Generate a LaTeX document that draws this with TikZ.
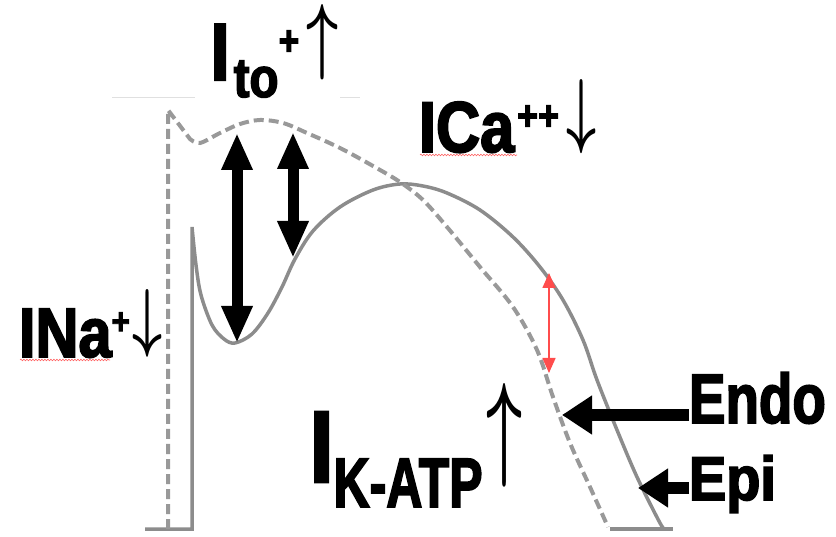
\documentclass[tikz,border=0pt]{standalone}
\usepackage{fontspec}
\usepackage{graphicx}
\setmainfont{Liberation Sans}[FakeStretch=0.85,BoldFeatures={FakeBold=2.5}]
\usetikzlibrary{arrows.meta,decorations.pathmorphing}
\begin{document}
\begin{tikzpicture}[x=1pt,y=-1pt,
  apcurve/.style={line width=3.5pt,black!45},
  apdash/.style={line width=4pt,black!40,dash pattern=on 10pt off 5pt},
  lbl/.style={inner sep=0pt,outer sep=0pt,anchor=base west,font=\bfseries},
  glyph/.style={inner sep=0pt,outer sep=0pt},
  fatboth/.style={line width=11pt,{Triangle[length=37pt,width=29pt]}-{Triangle[length=37pt,width=29pt]}},
  fatleft/.style={line width=12pt,-{Triangle[length=30pt,width=37pt]}},
  gaparrow/.style={line width=1.5pt,red!70,{Triangle[length=15pt,width=13pt]}-{Triangle[length=15pt,width=13pt]}},
  spell/.style={red!60,line width=0.6pt,decorate,decoration={snake,amplitude=0.8pt,segment length=3pt}}]
\useasboundingbox (0,0) rectangle (836,537);
\draw[black!12,line width=1pt] (112,98) -- (195,98) (340,98) -- (360,98);
\draw[apcurve] (145,529) -- (192,529) -- plot[smooth,tension=0.55] coordinates {(192,227) (196,265) (201,295) (212,325) (224,339) (235,343) (252,334) (268,313) (282,287) (295,259) (313,231) (340,207) (373,190) (400,184) (423,186) (447,193) (480,210) (513,237) (540,267) (563,300) (583,340) (597,380) (617,430) (637,477) (660,523) (665,529)};
\draw[apcurve] (610,529) -- (673,529);
\draw[apdash] (168,529) -- (168,110) -- plot[smooth,tension=0.55] coordinates {(190,139) (200,143) (220,133) (240,124) (260,120) (283,123) (307,133) (340,148) (373,166) (400,182) (423,200) (447,227) (480,267) (513,307) (537,350) (553,397) (570,443) (590,487) (608,527)};
\coordinate (toTopA) at (237,133);
\coordinate (toBotA) at (237,343);
\coordinate (toTopB) at (293,132);
\coordinate (toBotB) at (293,258);
\coordinate (gapTop) at (549,273);
\coordinate (gapBot) at (549,373);
\coordinate (endoTip) at (562,415);
\coordinate (epiTip) at (638,488);
\draw[fatboth] (toTopA) -- (toBotA);
\draw[fatboth] (toTopB) -- (toBotB);
\draw[gaparrow] (gapTop) -- (gapBot);
\node[lbl] (itoLbl) at (210.5,80) {\fontsize{81}{81}\selectfont I\hspace{4pt}\raisebox{-17pt}{\fontsize{56}{56}\selectfont to}\raisebox{25pt}{\fontsize{42}{42}\selectfont +}};
\node[glyph,anchor=south] (itoUp) at (323,80) {\resizebox{32pt}{59pt}{\boldmath$\uparrow$}};
\node[lbl] (icaLbl) at (419,152) {\fontsize{72}{72}\selectfont ICa\hspace{3pt}\raisebox{22pt}{\fontsize{42}{42}\selectfont ++}};
\node[glyph,anchor=north] (icaDown) at (581,79) {\resizebox{30pt}{58pt}{\boldmath$\downarrow$}};
\node[lbl] (inaLbl) at (19,357) {\fontsize{70}{70}\selectfont INa\raisebox{23pt}{\fontsize{37}{37}\selectfont +}};
\node[glyph,anchor=north] (inaDown) at (148,289) {\resizebox{30pt}{53pt}{\boldmath$\downarrow$}};
\node[lbl] (ikLbl) at (309.5,482) {\fontsize{102}{102}\selectfont I\raisebox{-25pt}{\fontsize{70}{70}\selectfont\scalebox{0.84}[1]{K-ATP}}};
\node[glyph,anchor=south] (ikUp) at (505,487) {\resizebox{36pt}{81pt}{\boldmath$\uparrow$}};
\node[lbl] (endoLbl) at (689,423) {\fontsize{70}{70}\selectfont\scalebox{0.92}[1]{Endo}};
\node[lbl] (epiLbl) at (689,500) {\fontsize{62}{62}\selectfont\scalebox{1.06}[1]{Epi}};
\draw[fatleft] (endoLbl.west |- endoTip) -- (endoTip);
\draw[fatleft] (epiLbl.west |- epiTip) -- (epiTip);
\draw[spell] (420,155) -- (517,155);
\draw[spell] (20,360) -- (110,360);
\end{tikzpicture}
\end{document}
